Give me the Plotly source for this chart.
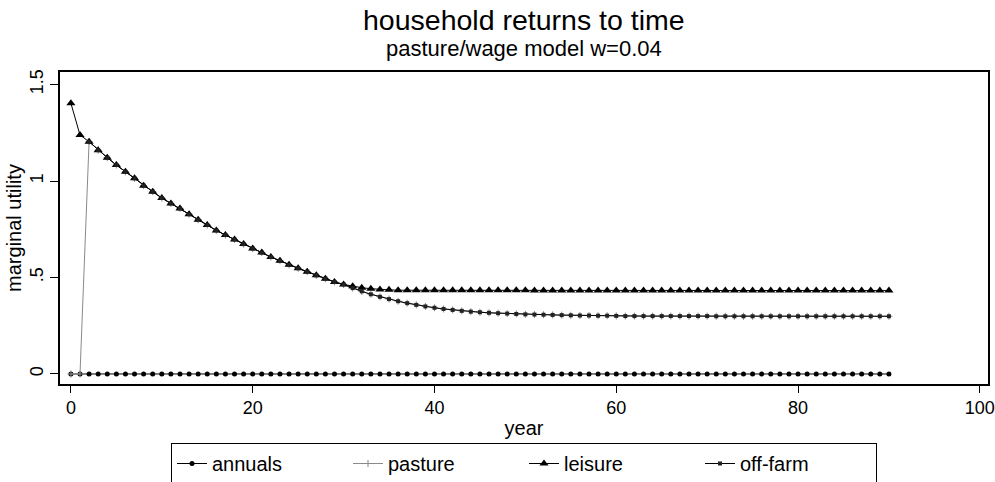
import plotly.graph_objects as go

years = list(range(0, 91))

# shared decline (years 2..30)
shared = [1.204, 1.160, 1.121, 1.083, 1.048, 1.014, 0.976, 0.945, 0.912, 0.884,
          0.858, 0.828, 0.799, 0.772, 0.744, 0.720, 0.697, 0.673, 0.650, 0.629,
          0.606, 0.587, 0.566, 0.548, 0.530, 0.511, 0.494, 0.477, 0.464]

annuals = [0.0] * 91

leisure_tail = [0.454, 0.447, 0.442, 0.438, 0.436] + [0.434] * 15 + [0.432] * 40
leisure = [1.403, 1.238] + shared + leisure_tail

lower_tail = [0.445, 0.428, 0.413, 0.400, 0.388, 0.377, 0.367, 0.358, 0.350, 0.343,
              0.337, 0.332, 0.327, 0.323, 0.320, 0.317, 0.315, 0.313, 0.311, 0.309,
              0.308, 0.307, 0.306, 0.305, 0.304, 0.303, 0.303, 0.302, 0.302, 0.301] \
             + [0.300] * 10 + [0.299] * 20
pasture = [0.0, 0.0] + shared + lower_tail
offfarm = [None, None] + shared + lower_tail

x_ticks = [0, 20, 40, 60, 80, 100]
y_ticks = [0, 0.5, 1, 1.5]
y_ticktext = ["0", ".5", "1", "1.5"]

FONT = "Liberation Sans, Arial, Helvetica, sans-serif"

fig = go.Figure()
fig.add_trace(go.Scatter(x=years, y=annuals, name="annuals", mode="lines+markers",
                         line=dict(color="black", width=1),
                         marker=dict(symbol="circle", size=5, color="black")))
fig.add_trace(go.Scatter(x=years, y=pasture, name="pasture", mode="lines+markers",
                         line=dict(color="#8a8a8a", width=1),
                         marker=dict(symbol="cross-thin", size=5,
                                     line=dict(color="#8a8a8a", width=1))))
fig.add_trace(go.Scatter(x=years, y=leisure, name="leisure", mode="lines+markers",
                         line=dict(color="black", width=1),
                         marker=dict(symbol="triangle-up", size=8, color="black")))
fig.add_trace(go.Scatter(x=years, y=offfarm, name="off-farm", mode="lines+markers",
                         line=dict(color="black", width=1),
                         marker=dict(symbol="square", size=4, color="#222222")))

fig.update_layout(
    width=995, height=482,
    margin=dict(l=60, r=7, t=72, b=98, autoexpand=False),
    paper_bgcolor="white", plot_bgcolor="white",
    font=dict(family=FONT, color="black", size=18),
    showlegend=True,
    legend=dict(orientation="h", x=0.5, xanchor="center",
                yref="container", y=1 - 443 / 482, yanchor="top",
                bordercolor="black", borderwidth=1, bgcolor="white",
                font=dict(size=20, family=FONT), entrywidth=131,
                traceorder="normal"),
    annotations=[
        dict(text="household returns to time", xref="paper", yref="paper",
             x=0.5, y=1 + (72 - 20) / 312, xanchor="center", yanchor="middle",
             showarrow=False, font=dict(size=28.5, family=FONT, color="black")),
        dict(text="pasture/wage model w=0.04", xref="paper", yref="paper",
             x=0.5, y=1 + (72 - 48) / 312, xanchor="center", yanchor="middle",
             showarrow=False, font=dict(size=22, family=FONT, color="black")),
    ],
)
fig.update_xaxes(range=[-1.2, 100.9], tickvals=x_ticks, ticks="outside", ticklen=7,
                 tickcolor="black", showline=True, linecolor="black", linewidth=1.5,
                 mirror=True, showgrid=False, zeroline=False, automargin=False,
                 title=dict(text="year", font=dict(size=20), standoff=4),
                 tickfont=dict(size=18))
fig.update_yaxes(range=[-0.052, 1.565], tickvals=y_ticks, ticktext=y_ticktext,
                 tickangle=-90, ticks="outside", ticklen=8,
                 tickcolor="black", showline=True, linecolor="black", linewidth=1.5,
                 mirror=True, showgrid=False, zeroline=False, automargin=False,
                 title=dict(text="marginal utility", font=dict(size=20), standoff=0),
                 tickfont=dict(size=18))

fig.write_html("out.html", config={"displayModeBar": False},
               post_script="document.body.style.margin='0';")
